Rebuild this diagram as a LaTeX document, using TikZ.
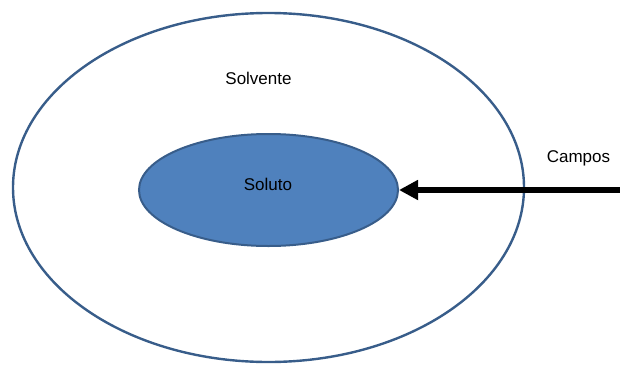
\documentclass[tikz,border=0pt]{standalone}
\usepackage{fontspec}
\setmainfont{Liberation Sans}
\usetikzlibrary{shapes.geometric, arrows.meta}

\definecolor{borda}{HTML}{385D8A}
\definecolor{preench}{HTML}{4F81BD}

\begin{document}
\begin{tikzpicture}[x=1pt, y=-1pt,
		rotulo/.style={anchor=base, font=\fontsize{17}{20}\selectfont},
		meio/.style={draw=borda, ellipse, inner sep=0pt, line width=2.4pt},
		campo/.style={-{Triangle[length=19pt, width=19pt]}, line width=6.5pt}]
			\useasboundingbox (0,0) rectangle (620,364);
			
			\node[meio, minimum width=511pt, minimum height=349pt] (solvente) at (268.5,187.5) {};
			\node[meio, fill=preench, line width=2pt, minimum width=259pt, minimum height=112pt] (soluto) at (268.5,190) {};
			
			\node[rotulo] (txtsolvente) at (258.5,84) {Solvente};
			\node[rotulo] (txtsoluto) at (268,190.5) {Soluto};
			\node[rotulo] (txtcampos) at (578.5,162.5) {Campos};
			
			\coordinate (entrada) at (620,190);
			\draw[campo] (entrada) -- (soluto.east);
		\end{tikzpicture}
\end{document}
